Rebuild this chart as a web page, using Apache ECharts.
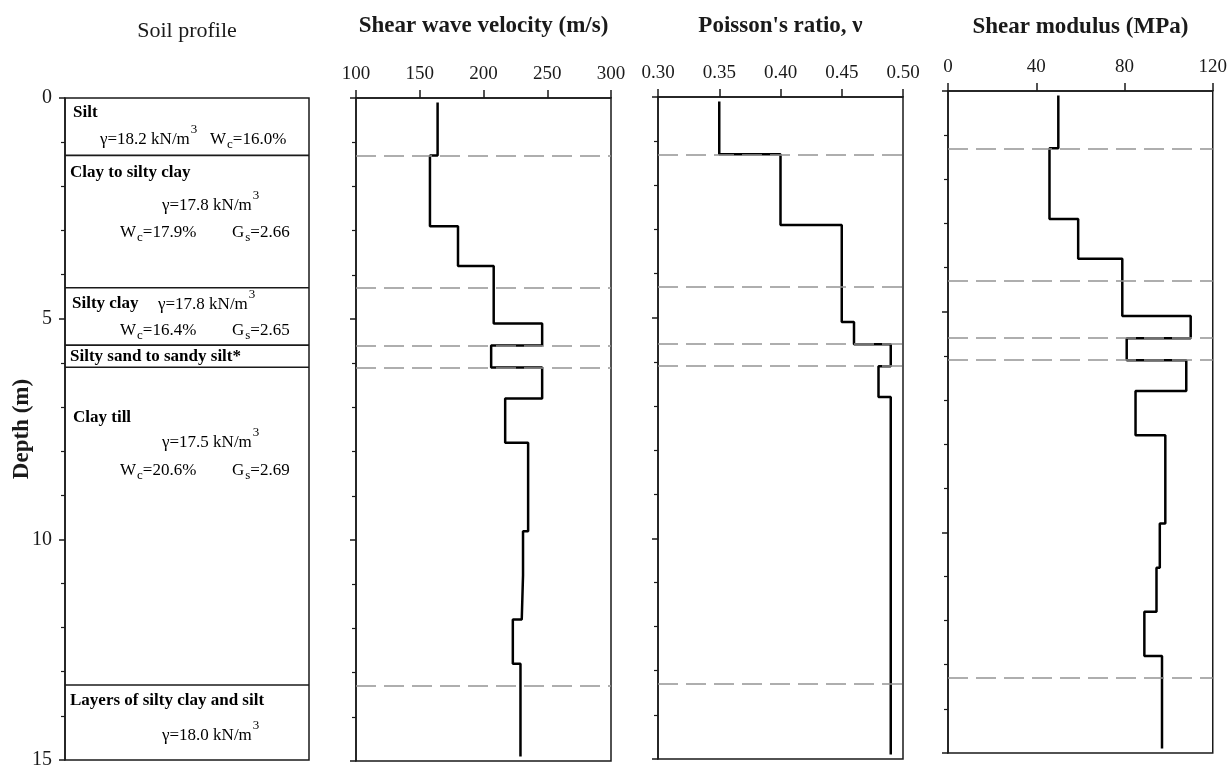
<!DOCTYPE html>
<html>
<head>
<meta charset="utf-8">
<script src="https://cdn.jsdelivr.net/npm/echarts@6/dist/echarts.min.js"></script>
<style>
  html, body { margin: 0; padding: 0; background: #fff; }
  #chart { width: 1230px; height: 770px; }
</style>
</head>
<body>
<div id="chart"></div>
<script>
// ---- Soil profile ----
const layerTops = [0, 1.3, 4.3, 5.6, 6.1, 13.3];
const layerNames = ['Silt', 'Clay to silty clay', 'Silty clay', 'Silty sand to sandy silt*', 'Clay till', 'Layers of silty clay and silt'];
const unitWeights = ['18.2', '17.8', '17.8', null, '17.5', '18.0'];      // kN/m3
const waterContents = ['16.0', '17.9', '16.4', null, '20.6', null];     // %
const specificGravity = [null, '2.66', '2.65', null, '2.69', null];
const layerBoundaries = [1.3, 4.3, 5.6, 6.1, 13.3];

// ---- Shear wave velocity (m/s) ----
const vsDepths = [0.1, 1.3, 2.9, 3.8, 5.1, 5.6, 6.1, 6.8, 7.8, 9.8, 10.8, 11.8, 12.8, 14.9];
const vsValues = [164, 158, 180, 208, 246, 206, 246, 217, 235, 231, 230, 223, 229];

// ---- Poisson's ratio ----
const nuDepths = [0.1, 1.3, 2.9, 5.1, 5.6, 6.1, 6.8, 14.9];
const nuValues = [0.35, 0.40, 0.45, 0.46, 0.49, 0.48, 0.49];

// ---- Shear modulus (MPa) ----
const gDepths = [0.1, 1.3, 2.9, 3.8, 5.1, 5.6, 6.1, 6.8, 7.8, 9.8, 10.8, 11.8, 12.8, 14.9];
const gValues = [50, 46, 59, 79, 110, 81, 108, 85, 98.5, 96, 94.5, 89, 97];

// ---- tick labels ----
const depthTicks = [0, 5, 10, 15];
const vsTicks = [100, 150, 200, 250, 300];
const nuTicks = [0.30, 0.35, 0.40, 0.45, 0.50];
const gTicks = [0, 40, 80, 120];

const SERIF = '"Liberation Serif", "Times New Roman", serif';
const INK = '#1a1a1a';

// build a stepped profile: each value holds constant between two depths
function stepPoints(depths, values) {
  const pts = [];
  values.forEach((v, i) => {
    pts.push([v, depths[i]]);
    pts.push([v, depths[i + 1]]);
  });
  return pts;
}

function depthAxis(gridIndex, showLabels, name) {
  return {
    type: 'value', gridIndex, inverse: true, position: 'left',
    min: depthTicks[0], max: depthTicks[depthTicks.length - 1], interval: depthTicks[1] - depthTicks[0],
    name: name || '', nameLocation: 'middle', nameGap: 31, nameRotate: 90, nameMoveOverlap: false,
    nameTextStyle: { fontFamily: SERIF, fontWeight: 'bold', fontSize: 23, color: INK },
    axisLine: { show: true, onZero: false, lineStyle: { color: INK, width: 1.5 } },
    axisTick: { show: true, inside: false, length: 6, lineStyle: { color: INK, width: 1.5 } },
    minorTick: { show: true, splitNumber: 5, length: 4, lineStyle: { color: INK, width: 1.2 } },
    axisLabel: { show: showLabels, fontFamily: SERIF, fontSize: 20, color: INK, margin: 13 },
    splitLine: { show: false }, minorSplitLine: { show: false }
  };
}

function topAxis(gridIndex, ticks, name, digits, nameGap) {
  return {
    type: 'value', gridIndex, position: 'top',
    min: ticks[0], max: ticks[ticks.length - 1], interval: ticks[1] - ticks[0],
    name, nameLocation: 'middle', nameGap,
    nameTextStyle: { fontFamily: SERIF, fontWeight: 'bold', fontSize: 23, color: INK },
    axisLine: { show: true, onZero: false, lineStyle: { color: INK, width: 1.5 } },
    axisTick: { show: true, inside: false, length: 8, lineStyle: { color: INK, width: 1.5 } },
    axisLabel: { fontFamily: SERIF, fontSize: 19, color: INK, margin: 14,
      formatter: v => v.toFixed(digits) },
    splitLine: { show: false }
  };
}

function profileSeries(idx, depths, values) {
  return {
    type: 'line', xAxisIndex: idx, yAxisIndex: idx,
    data: stepPoints(depths, values),
    symbol: 'none', showSymbol: false, animation: false,
    lineStyle: { color: '#000', width: 2.5 },
    markLine: {
      silent: true, symbol: ['none', 'none'], animation: false,
      label: { show: false },
      lineStyle: { type: [20, 8], color: '#949494', width: 1.6 },
      data: layerBoundaries.map(d => ({ yAxis: d }))
    }
  };
}

// text placement inside each soil layer, offsets (px) from the layer's top-left corner
const layerTextLayout = [
  { name: [8, 15], gamma: [35, 42], wc: [145, 42] },
  { name: [5, 17], gamma: [97, 50], wc: [55, 77], gs: [167, 77] },
  { name: [7, 16], gamma: [93, 17], wc: [55, 43], gs: [167, 43] },
  { name: [5, 11] },
  { name: [8, 50], gamma: [97, 75], wc: [55, 103], gs: [167, 103] },
  { name: [5, 16], gamma: [97, 51] }
];

const richStyles = {
  b:   { font: 'bold 17px ' + SERIF, fill: '#000', verticalAlign: 'middle' },
  r:   { font: '17px ' + SERIF, fill: '#000', verticalAlign: 'middle' },
  sup: { font: '13px ' + SERIF, fill: '#000', verticalAlign: 'middle', padding: [0, 0, 20, 1] },
  sub: { font: '13px ' + SERIF, fill: '#000', verticalAlign: 'middle', padding: [10, 0, 0, 1] }
};

function textEl(x, y, text) {
  return {
    type: 'text', x, y, silent: true,
    style: { text, rich: richStyles, font: '17px ' + SERIF, fill: '#000',
      align: 'left', verticalAlign: 'middle' }
  };
}

function renderLayer(params, api) {
  const i = params.dataIndex;
  const tl = api.coord([0, layerTops[i]]);
  const tr = api.coord([1, layerTops[i]]);
  const lay = layerTextLayout[i];
  const children = [];
  if (i > 0) {
    children.push({
      type: 'line', silent: true,
      shape: { x1: tl[0], y1: tl[1], x2: tr[0], y2: tr[1] },
      style: { stroke: INK, lineWidth: 1.6 }
    });
  }
  const at = p => [tl[0] + p[0], tl[1] + p[1]];
  let p = at(lay.name);
  children.push(textEl(p[0], p[1], '{b|' + layerNames[i] + '}'));
  if (unitWeights[i] && lay.gamma) {
    p = at(lay.gamma);
    children.push(textEl(p[0], p[1], '{r|γ=' + unitWeights[i] + ' kN/m}{sup|3}'));
  }
  if (waterContents[i] && lay.wc) {
    p = at(lay.wc);
    children.push(textEl(p[0], p[1], '{r|W}{sub|c}{r|=' + waterContents[i] + '%}'));
  }
  if (specificGravity[i] && lay.gs) {
    p = at(lay.gs);
    children.push(textEl(p[0], p[1], '{r|G}{sub|s}{r|=' + specificGravity[i] + '}'));
  }
  return { type: 'group', children };
}

const gridBase = { show: true, borderColor: INK, borderWidth: 1.5, backgroundColor: 'transparent' };

const option = {
  backgroundColor: '#fff',
  animation: false,
  grid: [
    Object.assign({ left: 65, top: 98, width: 244, height: 664 }, gridBase),
    Object.assign({ left: 356, top: 98, width: 255, height: 663 }, gridBase),
    Object.assign({ left: 658, top: 97, width: 245, height: 662 }, gridBase),
    Object.assign({ left: 948, top: 91, width: 265, height: 662 }, gridBase)
  ],
  xAxis: [
    {
      type: 'value', gridIndex: 0, position: 'top', min: 0, max: 1,
      name: 'Soil profile', nameLocation: 'middle', nameGap: 56,
      nameTextStyle: { fontFamily: SERIF, fontSize: 22, color: INK },
      axisLine: { show: false }, axisTick: { show: false }, axisLabel: { show: false },
      splitLine: { show: false }
    },
    topAxis(1, vsTicks, 'Shear wave velocity (m/s)', 0, 60),
    topAxis(2, nuTicks, "Poisson's ratio, ν", 2, 59),
    topAxis(3, gTicks, 'Shear modulus (MPa)', 0, 52)
  ],
  yAxis: [
    depthAxis(0, true, 'Depth (m)'),
    depthAxis(1, false),
    depthAxis(2, false),
    depthAxis(3, false)
  ],
  series: [
    {
      type: 'custom', xAxisIndex: 0, yAxisIndex: 0, silent: true,
      data: layerTops.map(t => [0, t]),
      renderItem: renderLayer
    },
    profileSeries(1, vsDepths, vsValues),
    profileSeries(2, nuDepths, nuValues),
    profileSeries(3, gDepths, gValues)
  ]
};

const chart = echarts.init(document.getElementById('chart'), null, { renderer: 'canvas' });
chart.setOption(option);
</script>
</body>
</html>
